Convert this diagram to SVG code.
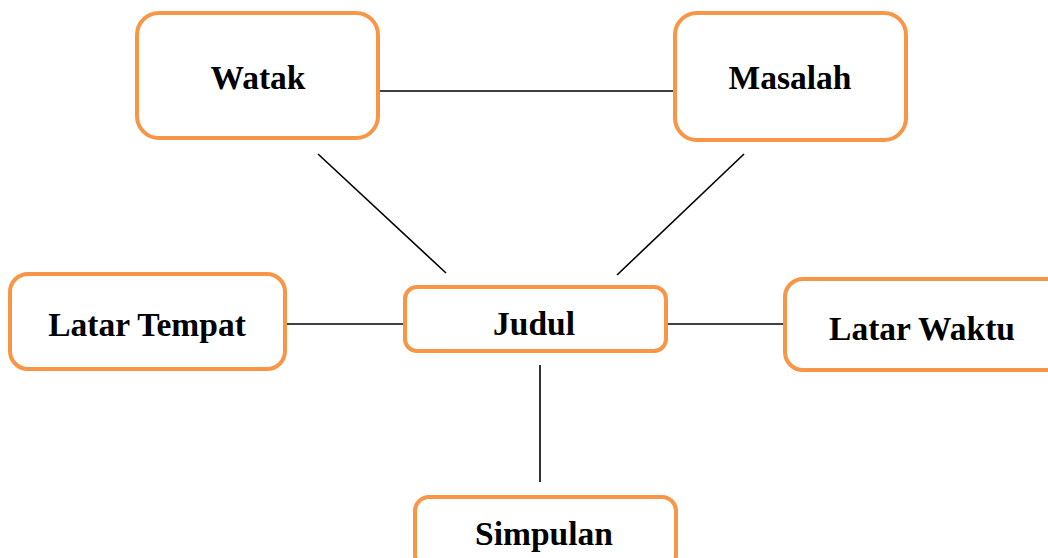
<svg xmlns="http://www.w3.org/2000/svg" width="1048" height="558" viewBox="0 0 1048 558">
<style>
.box{fill:#fff;stroke:#F79646;stroke-width:4}
.lbl{font-family:"Liberation Serif","DejaVu Serif",serif;font-weight:bold;font-size:33.5px;fill:#000;text-anchor:middle}
.conn line{stroke:#000;stroke-width:1.6}
</style>
<rect width="1048" height="558" fill="#fff"/>
<g id="connectors" class="conn">
<line x1="380" y1="91" x2="673" y2="91"/>
<line x1="318" y1="154" x2="446" y2="273"/>
<line x1="744" y1="154" x2="617" y2="275"/>
<line x1="287" y1="324" x2="403" y2="324"/>
<line x1="668" y1="324" x2="783" y2="324"/>
<line x1="540" y1="365" x2="540" y2="482"/>
</g>
<g id="watak"><rect class="box" x="137" y="13" width="241" height="125" rx="22"/><text class="lbl" x="258" y="89">Watak</text></g>
<g id="masalah"><rect class="box" x="675" y="13" width="231" height="127" rx="22"/><text class="lbl" x="790" y="89">Masalah</text></g>
<g id="latar-tempat"><rect class="box" x="10" y="274" width="275" height="95" rx="18"/><text class="lbl" x="147" y="336">Latar Tempat</text></g>
<g id="judul"><rect class="box" x="405" y="287" width="261" height="64" rx="12"/><text class="lbl" x="534" y="335">Judul</text></g>
<g id="latar-waktu"><rect class="box" x="785" y="279" width="280" height="91" rx="18"/><text class="lbl" x="922" y="340">Latar Waktu</text></g>
<g id="simpulan"><rect class="box" x="415" y="497" width="261" height="72" rx="14"/><text class="lbl" x="544" y="545">Simpulan</text></g>
</svg>
